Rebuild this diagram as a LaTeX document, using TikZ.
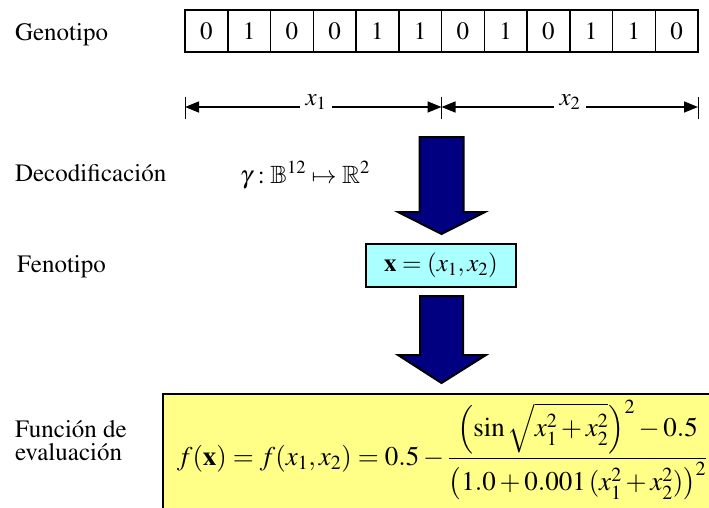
\documentclass[tikz,border=0pt]{standalone}
\usepackage[T1]{fontenc}
\usepackage{amssymb}
\usepackage{mathptmx}
\usetikzlibrary{arrows.meta}
\definecolor{arrowblue}{HTML}{000080}
\definecolor{fenocyan}{HTML}{AAFFFF}
\definecolor{evalyellow}{HTML}{FFFF88}
\newcommand{\myopen}[3]{\mathopen{\hbox{$\nulldelimiterspace=0pt\left#1\vrule height #2 depth #3 width 0pt\right.$}}}
\newcommand{\myclose}[3]{\mathclose{\hbox{$\nulldelimiterspace=0pt\left.\vrule height #2 depth #3 width 0pt\right#1$}}}
\begin{document}
\begin{tikzpicture}[x=1pt,y=-1pt,
  every node/.style={font=\fontsize{25}{29}\selectfont, inner sep=0pt, outer sep=0pt},
  cell/.style={draw, line width=1.5pt, minimum width=42.75pt, minimum height=42pt, anchor=north west},
  txtlabel/.style={anchor=base west},
  dimtip/.style={line width=1.5pt, -{Triangle[length=14pt,width=11pt]}},
  bigarrow/.style={fill=arrowblue, draw=black, line width=2pt, line join=miter},
  fenobox/.style={draw, line width=1.5pt, fill=fenocyan, minimum width=150pt, minimum height=43pt},
  evalbox/.style={draw, line width=1.5pt, fill=evalyellow}
]
\useasboundingbox (0,0) rectangle (709,507);

% Genotype
\node[txtlabel] (geno) at (15,40) {Genotipo};
\foreach \b [count=\i] in {0,1,0,0,1,1,0,1,0,1,1,0} {
  \node[cell] (c\i) at ({185+(\i-1)*42.75},10) {\b};
}

% dimension lines
\coordinate (t1) at (185,107);
\coordinate (t2) at (441.5,107);
\coordinate (t3) at (698,107);
\foreach \t in {t1,t2,t3} { \draw[line width=0.8pt] ([yshift=-12pt]\t) -- ([yshift=10pt]\t); }
\node[fill=white, inner xsep=6pt, inner ysep=3pt] (lx1) at (316,102) {$x_1$};
\node[fill=white, inner xsep=6pt, inner ysep=3pt] (lx2) at (570,102) {$x_2$};
\draw[dimtip] (lx1.west |- t1) -- (t1);
\draw[dimtip] (lx1.east |- t1) -- (t2);
\draw[dimtip] (lx2.west |- t1) -- (t2);
\draw[dimtip] (lx2.east |- t1) -- (t3);

% Decoding
\node[txtlabel] (deco) at (15,181) {Decodificaci\'on};
\node[txtlabel] (gamma) at (240,183) {$\gamma:\mathbb{B}^{12}\mapsto\mathbb{R}^2$};
\draw[bigarrow] (419.5,137) -- (463.5,137) -- (463.5,212) -- (485,212) -- (441.5,234) -- (398,212) -- (419.5,212) -- cycle;

% Phenotype
\node[txtlabel] (feno) at (17,272) {Fenotipo};
\node[fenobox] (x) at (441,265.5) {$\mathbf{x}=(x_1,x_2)$};
\draw[bigarrow] (420,296) -- (463,296) -- (463,355) -- (486,355) -- (441.5,383) -- (398,355) -- (420,355) -- cycle;

% Evaluation
\node[anchor=base west, align=left, font=\fontsize{25}{23}\selectfont] (evl) at (15,460) {Funci\'on de\\evaluaci\'on};
\node[evalbox, minimum width=560pt, minimum height=125pt, anchor=north west] (fbox) at (163,394) {};
\node[anchor=base west, font=\fontsize{27}{31}\selectfont] (form) at (177,465) {$\displaystyle f(\mathbf{x})=f(x_1,x_2)=0.5-\frac{\myopen{(}{26pt}{14pt}\sin\sqrt{x_1^2+x_2^2}\myclose{)}{26pt}{14pt}^{2}-0.5}{\myopen{(}{23pt}{9pt}1.0+0.001\,(x_1^2+x_2^2)\myclose{)}{23pt}{9pt}^{2}}$};
\end{tikzpicture}
\end{document}
